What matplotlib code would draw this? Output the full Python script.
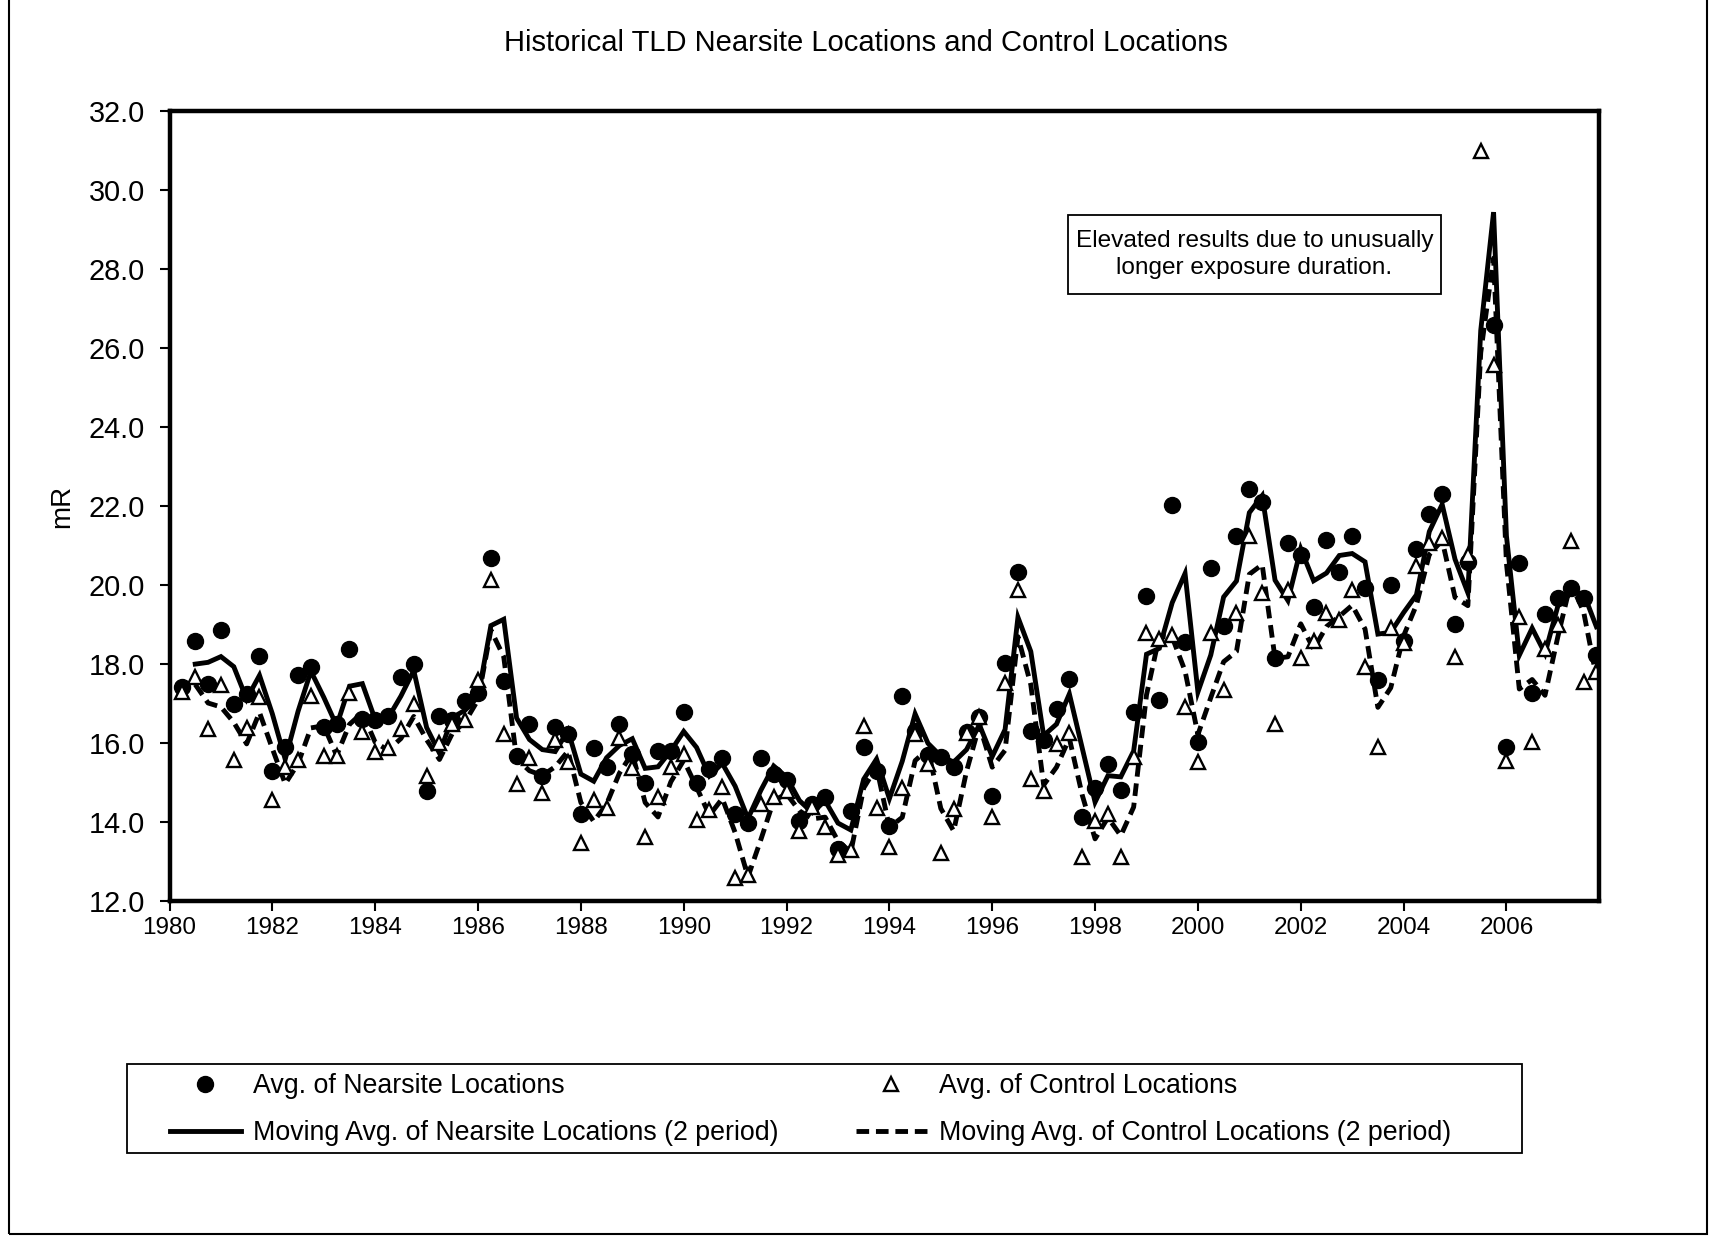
import numpy as np
import pandas as pd
import matplotlib
matplotlib.use("Agg")
import matplotlib.pyplot as plt
from matplotlib.patches import Rectangle

plt.rcParams['font.family'] = ['Liberation Sans', 'DejaVu Sans']

# quarterly TLD results, first reading is 1980.25, last 2007.75
quarters = np.arange(1980.25, 2008.0, 0.25)

nearsite = [
    17.42, 18.59, 17.51,            # 1980
    18.88, 17.00, 17.24, 18.20,     # 1981
    15.29, 15.90, 17.72, 17.93,     # 1982
    16.40, 16.49, 18.40, 16.62,     # 1983
    16.58, 16.70, 17.69, 18.00,     # 1984
    14.80, 16.70, 16.60, 17.08,     # 1985
    17.27, 20.69, 17.59, 15.69,     # 1986
    16.50, 15.18, 16.40, 16.24,     # 1987
    14.20, 15.88, 15.39, 16.50,     # 1988
    15.73, 15.00, 15.81, 15.81,     # 1989
    16.79, 15.00, 15.35, 15.63,     # 1990
    14.20, 13.99, 15.63, 15.22,     # 1991
    15.07, 14.03, 14.46, 14.63,     # 1992
    13.33, 14.28, 15.90, 15.30,     # 1993
    13.90, 17.19, 16.30, 15.70,     # 1994
    15.65, 15.40, 16.28, 16.66,     # 1995
    14.67, 18.03, 20.35, 16.30,     # 1996
    16.09, 16.88, 17.62, 14.14,     # 1997
    14.88, 15.48, 14.82, 16.79,     # 1998
    19.72, 17.09, 22.03, 18.57,     # 1999
    16.03, 20.44, 18.97, 21.25,     # 2000
    22.43, 22.11, 18.15, 21.08,     # 2001
    20.77, 19.46, 21.16, 20.35,     # 2002
    21.26, 19.93, 17.60, 20.02,     # 2003
    18.60, 20.92, 21.80, 22.30,     # 2004
    19.02, 20.60, 32.30, 26.60,     # 2005
    15.90, 20.56, 17.27, 19.28,     # 2006
    19.67, 19.93, 19.67, 18.23,     # 2007
]

control = [
    17.30, 17.68, 16.36,            # 1980
    17.48, 15.58, 16.39, 17.17,     # 1981
    14.56, 15.39, 15.58, 17.20,     # 1982
    15.69, 15.69, 17.27, 16.28,     # 1983
    15.77, 15.88, 16.36, 17.00,     # 1984
    15.18, 16.00, 16.50, 16.60,     # 1985
    17.60, 20.14, 16.24, 14.97,     # 1986
    15.64, 14.73, 16.08, 15.52,     # 1987
    13.48, 14.56, 14.36, 16.13,     # 1988
    15.37, 13.63, 14.64, 15.41,     # 1989
    15.73, 14.05, 14.30, 14.90,     # 1990
    12.58, 12.66, 14.46, 14.64,     # 1991
    14.80, 13.78, 14.39, 13.87,     # 1992
    13.18, 13.31, 16.43, 14.37,     # 1993
    13.37, 14.88, 16.24, 15.47,     # 1994
    13.23, 14.33, 16.25, 16.66,     # 1995
    14.13, 17.52, 19.88, 15.09,     # 1996
    14.80, 15.99, 16.26, 13.12,     # 1997
    14.04, 14.20, 13.12, 15.65,     # 1998
    18.80, 18.63, 18.74, 16.92,     # 1999
    15.52, 18.79, 17.34, 19.31,     # 2000
    21.25, 19.80, 16.50, 19.88,     # 2001
    18.17, 18.60, 19.31, 19.12,     # 2002
    19.87, 17.92, 15.90, 18.91,     # 2003
    18.53, 20.48, 21.08, 21.20,     # 2004
    18.19, 20.78, 31.00, 25.57,     # 2005
    15.55, 19.20, 16.03, 18.40,     # 2006
    19.00, 21.12, 17.55, 17.80,     # 2007
]

x_ticks = list(range(1980, 2007, 2))
y_ticks = np.arange(12.0, 32.1, 2.0)

# 2 period moving averages
near_ma = pd.Series(nearsite).rolling(2).mean()
ctrl_ma = pd.Series(control).rolling(2).mean()

fig = plt.figure(figsize=(17.14, 12.38), dpi=100)
ax = fig.add_axes([0.0989, 0.272, 0.834, 0.638])

l_nma, = ax.plot(quarters, near_ma, color='black', lw=3.5, solid_joinstyle='miter')
l_cma, = ax.plot(quarters, ctrl_ma, color='black', lw=3.5, ls=(0, (2.6, 1.4)))
m_n, = ax.plot(quarters, nearsite, 'o', color='black', ms=11.5, ls='none')
m_c, = ax.plot(quarters, control, '^', mfc='white', mec='black', mew=1.7, ms=10.5, ls='none')

ax.set_xlim(1980, 2007.8)
ax.set_ylim(12, 32)
ax.set_xticks(x_ticks)
ax.set_xticklabels([str(y) for y in x_ticks], fontsize=17.5)
ax.set_yticks(y_ticks)
ax.set_yticklabels(['%.1f' % v for v in y_ticks], fontsize=20.8)
ax.tick_params(direction='out', length=7, width=1.5, colors='black')
ax.tick_params(axis='y', pad=10.5)
ax.tick_params(axis='x', pad=4)
for s in ax.spines.values():
    s.set_linewidth(3.2)

ax.set_ylabel('mR', fontsize=20, labelpad=10)

# note box about the 2005 peak
ax.add_patch(Rectangle((0.6285, 0.769), 0.2607, 0.0996, transform=ax.transAxes,
                       fc='white', ec='black', lw=1.3, zorder=4))
ax.text(0.759, 0.8188, 'Elevated results due to unusually\nlonger exposure duration.',
        transform=ax.transAxes, ha='center', va='center', fontsize=17.6,
        linespacing=1.32, zorder=5)

fig.text(0.505, 0.965, 'Historical TLD Nearsite Locations and Control Locations',
         ha='center', va='center', fontsize=21)

leg = fig.legend([m_n, l_nma, m_c, l_cma],
                 ['Avg. of Nearsite Locations', 'Moving Avg. of Nearsite Locations (2 period)',
                  'Avg. of Control Locations', 'Moving Avg. of Control Locations (2 period)'],
                 ncol=2, loc='center left', bbox_to_anchor=(0.0989, 0.1035),
                 borderaxespad=0, borderpad=0, fontsize=19.3, frameon=False,
                 handlelength=2.65, handletextpad=0.45, columnspacing=2.9,
                 labelspacing=0.78, numpoints=1)

# legend box and outer frame around the whole picture
fig.patches.append(Rectangle((0.074, 0.0688), 0.814, 0.0715, transform=fig.transFigure,
                             fill=False, ec='black', lw=1.3))
fig.patches.append(Rectangle((0.005, 0.003), 0.991, 1.2, transform=fig.transFigure,
                             fill=False, ec='black', lw=1.5))

fig.savefig('out.png', dpi=100)
